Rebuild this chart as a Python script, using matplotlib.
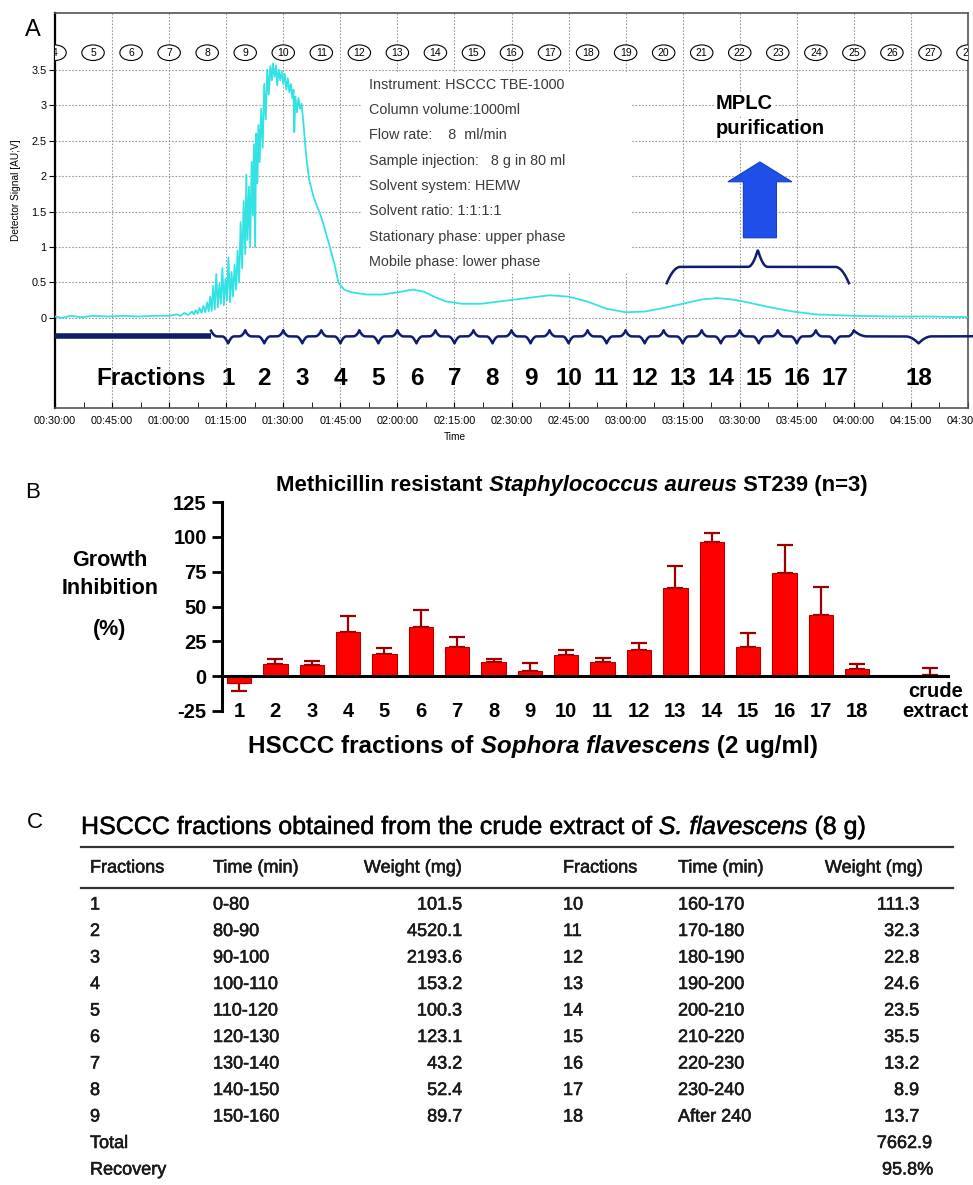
import numpy as np
import matplotlib
matplotlib.use("Agg")
import matplotlib.pyplot as plt
import matplotlib.patheffects as pe
from matplotlib.patches import Ellipse, Rectangle, FancyArrow

plt.rcParams['font.family'] = ['Liberation Sans', 'DejaVu Sans']
plt.rcParams['axes.unicode_minus'] = False

# ---- panel A: HSCCC chromatogram (time in min, detector signal) ----
trace = [(30, 0.02), (32, 0.00), (34, 0.03), (37, 0.01), (40, 0.03), (44, 0.02), (48, 0.03), (52, 0.02),
         (56, 0.03), (60, 0.03), (62, 0.05), (63, 0.03), (64, 0.07), (65, 0.04), (66, 0.09), (66.5, 0.05),
         (67, 0.11), (67.5, 0.06), (68, 0.14), (68.5, 0.07), (69, 0.17), (69.5, 0.08), (70, 0.22), (70.4, 0.09),
         (70.8, 0.30), (71.2, 0.10), (71.6, 0.45), (72, 0.12), (72.4, 0.62), (72.8, 0.15), (73.2, 0.48),
         (73.6, 0.20), (74, 0.70), (74.4, 0.18), (74.8, 0.55), (75.2, 0.25), (75.6, 0.85), (76, 0.22),
         (76.4, 0.65), (76.8, 0.30), (77.2, 0.75), (77.6, 0.40), (78, 0.95), (78.4, 0.50), (78.8, 1.35),
         (79.2, 0.70), (79.6, 1.65), (80, 0.90), (80.3, 2.02), (80.6, 1.10), (81, 1.85), (81.3, 1.00),
         (81.7, 2.20), (82, 1.45), (82.3, 2.45), (82.6, 1.00), (82.9, 2.60), (83.2, 1.90), (83.5, 2.72),
         (83.8, 2.20), (84.2, 2.95), (84.6, 2.40), (85, 3.30), (85.4, 2.80), (85.8, 3.50), (86.2, 3.15),
         (86.6, 3.55), (87, 3.35), (87.3, 3.59), (87.7, 3.40), (88.1, 3.56), (88.4, 3.28), (88.8, 3.50),
         (89.2, 3.35), (89.6, 3.48), (90, 3.30), (90.4, 3.44), (90.8, 3.22), (91.2, 3.38), (91.6, 3.18),
         (92, 3.30), (92.4, 3.10), (92.7, 3.22), (92.9, 2.62), (93.2, 3.12), (93.6, 2.90), (94, 3.10),
         (94.4, 2.95), (94.8, 3.02), (95.3, 2.75), (96, 2.30), (96.8, 1.95), (98, 1.70), (100, 1.42),
         (102, 1.05), (103.5, 0.75), (104.5, 0.50), (106, 0.40), (108, 0.36), (112, 0.33), (116, 0.33),
         (120, 0.36), (124, 0.40), (127, 0.37), (130, 0.29), (133, 0.23), (137, 0.20), (142, 0.20),
         (148, 0.24), (154, 0.28), (160, 0.32), (165, 0.30), (170, 0.23), (175, 0.13), (180, 0.08),
         (185, 0.09), (190, 0.14), (195, 0.20), (200, 0.26), (204, 0.28), (208, 0.26), (212, 0.22),
         (218, 0.15), (224, 0.09), (230, 0.05), (240, 0.03), (250, 0.02), (260, 0.02), (270, 0.01)]
trace_t = [p[0] for p in trace]
trace_v = [p[1] for p in trace]

cycle_nums = [4, 5, 6, 7, 8, 9, 10, 11, 12, 13, 14, 15, 16, 17, 18, 19, 20, 21, 22, 23, 24, 25, 26, 27, 28]
cycle_t = [30, 40, 50, 60, 70, 80, 90, 100, 110, 120, 130, 140, 150, 160, 170, 180, 190, 200, 210,
           220, 230, 240, 250, 260, 270]

frac_edges = [71, 80, 90, 100, 110, 120, 130, 140, 150, 160, 170, 180, 190, 200, 210, 220, 230, 240, 274]
frac_names = ['1', '2', '3', '4', '5', '6', '7', '8', '9', '10', '11', '12', '13', '14', '15', '16', '17', '18']

info_lines = ['Instrument: HSCCC TBE-1000', 'Column volume:1000ml', 'Flow rate:    8  ml/min',
              'Sample injection:   8 g in 80 ml', 'Solvent system: HEMW', 'Solvent ratio: 1:1:1:1',
              'Stationary phase: upper phase', 'Mobile phase: lower phase']

# ---- panel B: growth inhibition ----
b_labels = ['1', '2', '3', '4', '5', '6', '7', '8', '9', '10', '11', '12', '13', '14', '15', '16', '17',
            '18', 'crude\nextract']
b_pos = [1, 2, 3, 4, 5, 6, 7, 8, 9, 10, 11, 12, 13, 14, 15, 16, 17, 18, 20]
b_vals = [-5, 9, 8, 32, 16, 35, 21, 10, 3.5, 15, 10.5, 18.5, 63, 96.5, 21, 74, 44, 5, 1]
b_err = [6, 3.5, 3, 11.5, 4, 12.5, 7, 2.5, 6, 4, 2.3, 5.5, 16, 6, 10, 20, 20, 3.5, 5]

# ---- panel C: fraction table ----
c_frac = ['1', '2', '3', '4', '5', '6', '7', '8', '9', '10', '11', '12', '13', '14', '15', '16', '17', '18']
c_time = ['0-80', '80-90', '90-100', '100-110', '110-120', '120-130', '130-140', '140-150', '150-160',
          '160-170', '170-180', '180-190', '190-200', '200-210', '210-220', '220-230', '230-240', 'After 240']
c_weight = ['101.5', '4520.1', '2193.6', '153.2', '100.3', '123.1', '43.2', '52.4', '89.7',
            '111.3', '32.3', '22.8', '24.6', '23.5', '35.5', '13.2', '8.9', '13.7']
c_total = '7662.9'
c_recovery = '95.8%'

NAVY = '#101c6e'


def brace(a, b, y0, tip, mid, w_end, w_mid):
    x = np.linspace(a, b, 400)
    m = (a + b) / 2
    d_end = np.minimum(x - a, b - x)
    y = (y0 + tip * np.clip(1 - d_end / w_end, 0, 1) ** 2
         + mid * np.clip(1 - np.abs(x - m) / w_mid, 0, 1) ** 2)
    return x, y


fig = plt.figure(figsize=(9.73, 11.85), dpi=100)
W, H = 973, 1185

# ================= panel A =================
ax = fig.add_axes([55 / W, 1 - 408 / H, 913 / W, 395 / H])
ax.set_xlim(30, 270)
ax.set_ylim(-1.27, 4.30)
for t in range(30, 271, 15):
    ax.axvline(t, color='#9a9a9a', ls=(0, (1.5, 1.5)), lw=0.8, zorder=0)
for v in np.arange(0, 3.51, 0.5):
    ax.axhline(v, color='#9a9a9a', ls=(0, (1.5, 1.5)), lw=0.8, zorder=0)
ax.add_patch(Rectangle((110.8, 0.62), 71, 2.85, fc='white', ec='none', zorder=1))

ax.plot(trace_t, trace_v, color='#33e3e3', lw=1.3, zorder=3)

for n, t in zip(cycle_nums, cycle_t):
    ax.add_patch(Ellipse((t, 3.74), 5.9, 0.22, fc='white', ec='black', lw=0.8, zorder=4))
    ax.text(t, 3.735, str(n), ha='center', va='center', fontsize=7.5, zorder=5, clip_on=True)

ax.plot([30, 71], [-0.26, -0.26], color=NAVY, lw=4, solid_capstyle='butt', zorder=3)
for i, name in enumerate(frac_names):
    a, b = frac_edges[i], frac_edges[i + 1]
    we = 1.6 if b - a < 20 else 3.5
    bx, by = brace(a, b, -0.26, 0.08, -0.10, we, we)
    ax.plot(bx, by, color=NAVY, lw=1.8, zorder=3, clip_on=False)
    ax.text((a + b) / 2, -0.86, name, ha='center', va='center', fontsize=17.5, fontweight='bold')
ax.text(55.3, -0.86, 'Fractions', ha='center', va='center', fontsize=17.5, fontweight='bold')

for k, line in enumerate(info_lines):
    ax.text(112.6, 3.29 - 0.357 * k, line, ha='left', va='center', fontsize=10.4, color='#3a3a3a', zorder=5)

ax.text(203.7, 3.02, 'MPLC', ha='left', va='center', fontsize=14.5, fontweight='bold', zorder=5,
        bbox=dict(fc='white', ec='none', pad=1))
ax.text(203.7, 2.67, 'purification', ha='left', va='center', fontsize=14.5, fontweight='bold', zorder=5,
        bbox=dict(fc='white', ec='none', pad=1))
ax.add_patch(FancyArrow(215.3, 1.13, 0, 1.07, width=8.7, head_width=16.8, head_length=0.28,
                        length_includes_head=True, fc='#1f4fe8', ec='#1a3fc0', lw=0.8, zorder=5))
mx, my = brace(190.8, 238.7, 0.72, -0.23, 0.24, 3.6, 2.6)
ax.plot(mx, my, color=NAVY, lw=1.8, zorder=5)

ax.set_yticks(np.arange(0, 3.51, 0.5))
ax.set_yticklabels(['0', '0.5', '1', '1.5', '2', '2.5', '3', '3.5'])
xt = list(range(30, 271, 15))
ax.set_xticks(xt)
ax.set_xticklabels(['%02d:%02d:00' % (t // 60, t % 60) for t in xt])
ax.set_xticks(np.arange(37.5, 270, 15), minor=True)
ax.tick_params(axis='x', which='both', direction='in', length=4, labelsize=7.8, pad=6)
ax.tick_params(axis='y', direction='out', length=4, labelsize=7.8, pad=2)
for s in ['top', 'right', 'bottom']:
    ax.spines[s].set_color('#555555')
    ax.spines[s].set_linewidth(1.2)
ax.spines['left'].set_linewidth(1.6)

# ================= panel B =================
bx_ax = fig.add_axes([222 / W, 1 - 711 / H, (950 - 222) / W, (711 - 502) / H])
bx_ax.set_xlim(0.533, 20.55)
bx_ax.set_ylim(-25, 125)
lower = [e if v < 0 else 0 for v, e in zip(b_vals, b_err)]
upper = [0 if v < 0 else e for v, e in zip(b_vals, b_err)]
bx_ax.errorbar(b_pos, b_vals, yerr=[lower, upper], fmt='none', ecolor='#9b0000', elinewidth=1.6,
               capsize=5.5, capthick=1.6, zorder=1)
bx_ax.bar(b_pos, b_vals, width=0.67, color='#ff0000', edgecolor='#b00000', lw=0.8, zorder=2)
bx_ax.axhline(0, color='black', lw=2.2, zorder=3)
for s in ['top', 'right', 'bottom']:
    bx_ax.spines[s].set_visible(False)
bx_ax.spines['left'].set_linewidth(2.2)
bx_ax.set_yticks([-25, 0, 25, 50, 75, 100, 125])
bx_ax.tick_params(axis='y', width=2, length=7, labelsize=14.5, pad=4)
for lab in bx_ax.get_yticklabels():
    lab.set_fontweight('bold')
bx_ax.set_xticks([])
for p, lab in zip(b_pos, b_labels):
    if '\n' in lab:
        bx_ax.text(p + 0.15, -18, lab, ha='center', va='center', fontsize=14.5, fontweight='bold',
                   linespacing=1.05, clip_on=False)
    else:
        bx_ax.text(p, -25.5, lab, ha='center', va='center', fontsize=14.5, fontweight='bold', clip_on=False)

# ================= overlay (pixel coords) =================
ovl = fig.add_axes([0, 0, 1, 1])
ovl.set_xlim(0, W)
ovl.set_ylim(H, 0)
ovl.axis('off')
renderer = fig.canvas.get_renderer()


def rich(x, y, pieces, size, center=False, effects=None):
    texts = []
    x0 = x
    kw = {}
    if effects:
        kw['path_effects'] = effects
    for s, style, weight in pieces:
        t = ovl.text(x, y, s, fontsize=size, fontstyle=style, fontweight=weight, ha='left', va='baseline', **kw)
        texts.append(t)
        x += t.get_window_extent(renderer).width * W / fig.bbox.width
    if center:
        shift = (x - x0) / 2
        for t in texts:
            t.set_x(t.get_position()[0] - shift)


ovl.text(33, 30, 'A', fontsize=17, ha='center', va='center')
ovl.text(33, 493, 'B', fontsize=16, ha='center', va='center')
ovl.text(35, 823, 'C', fontsize=16, ha='center', va='center')

ovl.text(16, 190, 'Detector Signal [AU;V]', rotation=90, fontsize=7.3, ha='center', va='center')
ovl.text(455, 437, 'Time', fontsize=7.3, ha='center', va='center')

rich(572, 491, [('Methicillin resistant', 'normal', 'bold'), (' Staphylococcus aureus', 'italic', 'bold'),
                (' ST239 (n=3)', 'normal', 'bold')], 15.9, center=True)
rich(533, 753, [('HSCCC fractions of', 'normal', 'bold'), (' Sophora flavescens', 'italic', 'bold'),
                (' (2 ug/ml)', 'normal', 'bold')], 17.5, center=True)
for txt, yy in [('Growth', 560), ('Inhibition', 589), ('(%)', 629)]:
    ovl.text(110, yy, txt, fontsize=15.5, fontweight='bold', ha='center', va='center')

stroke = [pe.withStroke(linewidth=0.4, foreground='#1a1a1a')]
rich(81, 834, [('HSCCC fractions obtained from the crude extract of', 'normal', 'normal'),
               (' S. flavescens', 'italic', 'normal'), (' (8 g)', 'normal', 'normal')], 18, effects=stroke)

ovl.plot([81, 953], [847, 847], color='#333333', lw=1.6)
ovl.plot([81, 953], [888, 888], color='#333333', lw=1.6)
tkw = dict(fontsize=13, color='#1a1a1a', va='center', path_effects=stroke)
for x0, xtm, xr in [(90, 213, 462), (563, 678, 923)]:
    ovl.text(x0, 868, 'Fractions', ha='left', **tkw)
    ovl.text(xtm, 868, 'Time (min)', ha='left', **tkw)
    ovl.text(xr, 868, 'Weight (mg)', ha='right', **tkw)
for i in range(18):
    col = i // 9
    row = i % 9
    y = 905 + 26.5 * row
    fx, tx, wx = [(90, 213, 462), (563, 678, 919)][col]
    ovl.text(fx, y, c_frac[i], ha='left', **tkw)
    ovl.text(tx, y, c_time[i], ha='left', **tkw)
    ovl.text(wx, y, c_weight[i], ha='right', **tkw)
ovl.text(90, 905 + 26.5 * 9, 'Total', ha='left', **tkw)
ovl.text(932, 905 + 26.5 * 9, c_total, ha='right', **tkw)
ovl.text(90, 905 + 26.5 * 10, 'Recovery', ha='left', **tkw)
ovl.text(933, 905 + 26.5 * 10, c_recovery, ha='right', **tkw)

fig.savefig('out.png', dpi=100)
